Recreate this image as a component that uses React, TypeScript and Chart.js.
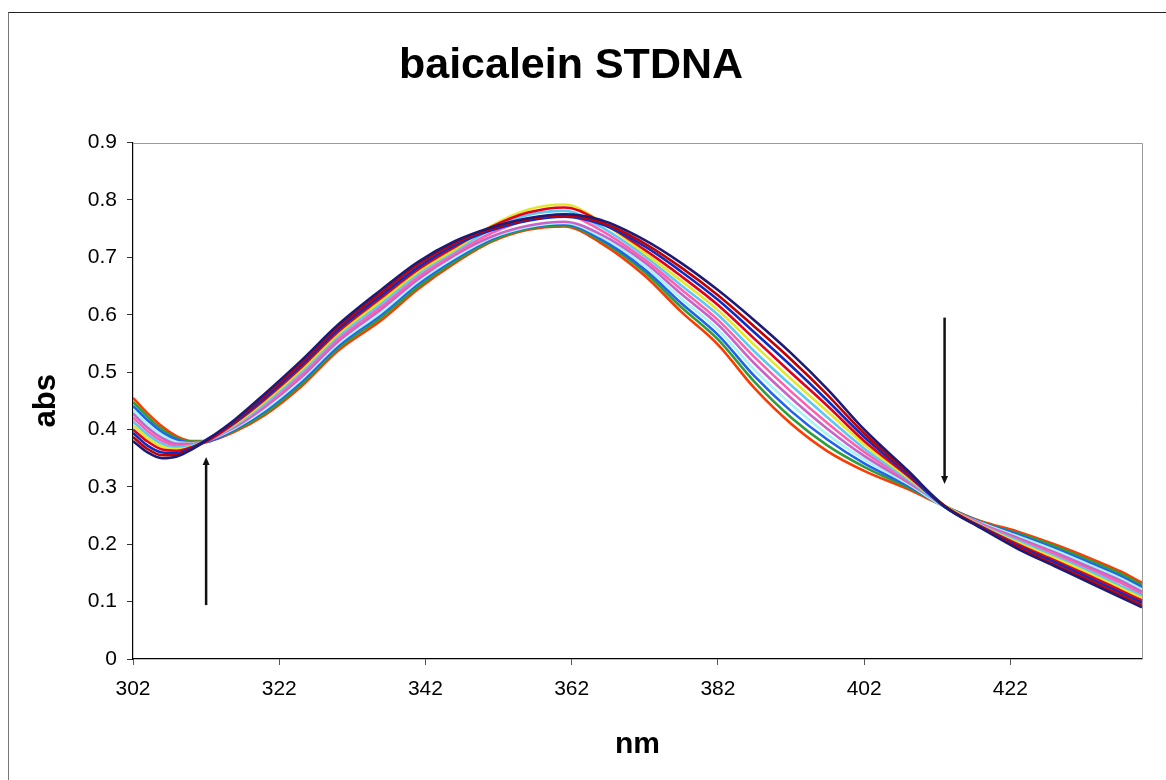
import React, { useEffect, useRef } from 'react';
import { Chart, registerables } from 'chart.js';

Chart.register(...registerables);

const TITLE = 'baicalein STDNA';
const X_TITLE = 'nm';
const Y_TITLE = 'abs';

const WAVELENGTHS = [302, 304, 306, 308, 310, 312, 316, 320, 325, 330, 336, 341, 346, 351, 356, 361, 366, 372, 377, 382, 387, 392, 397, 402, 408, 413, 418, 423, 428, 433, 437, 440];
const X_TICKS = [302, 322, 342, 362, 382, 402, 422];
const Y_TICKS = [0, 0.1, 0.2, 0.3, 0.4, 0.5, 0.6, 0.7, 0.8, 0.9];

const SPECTRUM_01 = [0.380, 0.360, 0.350, 0.353, 0.365, 0.381, 0.418, 0.462, 0.520, 0.582, 0.644, 0.692, 0.728, 0.752, 0.768, 0.775, 0.765, 0.730, 0.690, 0.643, 0.590, 0.533, 0.470, 0.400, 0.328, 0.266, 0.228, 0.192, 0.162, 0.132, 0.108, 0.090];
const SPECTRUM_02 = [0.387, 0.366, 0.355, 0.356, 0.366, 0.380, 0.416, 0.459, 0.516, 0.578, 0.639, 0.688, 0.725, 0.750, 0.766, 0.773, 0.761, 0.724, 0.682, 0.634, 0.579, 0.522, 0.460, 0.393, 0.325, 0.267, 0.229, 0.195, 0.165, 0.136, 0.112, 0.094];
const SPECTRUM_03 = [0.394, 0.372, 0.360, 0.359, 0.368, 0.382, 0.414, 0.455, 0.512, 0.574, 0.634, 0.683, 0.721, 0.747, 0.764, 0.771, 0.758, 0.719, 0.675, 0.626, 0.569, 0.511, 0.450, 0.387, 0.322, 0.265, 0.230, 0.197, 0.169, 0.140, 0.116, 0.098];
const SPECTRUM_04 = [0.400, 0.379, 0.365, 0.363, 0.369, 0.379, 0.412, 0.452, 0.508, 0.570, 0.630, 0.679, 0.718, 0.753, 0.778, 0.787, 0.762, 0.713, 0.667, 0.617, 0.558, 0.499, 0.441, 0.380, 0.319, 0.266, 0.231, 0.200, 0.172, 0.144, 0.120, 0.102];
const SPECTRUM_05 = [0.407, 0.385, 0.370, 0.366, 0.370, 0.381, 0.410, 0.449, 0.504, 0.566, 0.625, 0.675, 0.714, 0.755, 0.783, 0.792, 0.762, 0.707, 0.659, 0.608, 0.547, 0.488, 0.431, 0.374, 0.316, 0.268, 0.232, 0.203, 0.176, 0.148, 0.124, 0.106];
const SPECTRUM_06 = [0.414, 0.391, 0.375, 0.369, 0.372, 0.380, 0.408, 0.445, 0.500, 0.562, 0.620, 0.671, 0.711, 0.749, 0.774, 0.781, 0.753, 0.702, 0.651, 0.600, 0.536, 0.477, 0.421, 0.367, 0.313, 0.265, 0.233, 0.206, 0.179, 0.152, 0.128, 0.110];
const SPECTRUM_07 = [0.421, 0.397, 0.380, 0.372, 0.373, 0.379, 0.407, 0.442, 0.495, 0.557, 0.615, 0.666, 0.707, 0.742, 0.765, 0.774, 0.747, 0.696, 0.644, 0.591, 0.526, 0.466, 0.411, 0.361, 0.311, 0.266, 0.235, 0.208, 0.183, 0.155, 0.133, 0.113];
const SPECTRUM_08 = [0.428, 0.403, 0.385, 0.375, 0.375, 0.381, 0.405, 0.439, 0.491, 0.553, 0.610, 0.662, 0.704, 0.736, 0.755, 0.762, 0.740, 0.691, 0.636, 0.583, 0.515, 0.455, 0.401, 0.354, 0.308, 0.267, 0.236, 0.211, 0.186, 0.159, 0.137, 0.117];
const SPECTRUM_09 = [0.435, 0.409, 0.390, 0.378, 0.376, 0.380, 0.403, 0.435, 0.487, 0.549, 0.605, 0.658, 0.700, 0.734, 0.753, 0.760, 0.736, 0.685, 0.628, 0.574, 0.504, 0.444, 0.391, 0.348, 0.305, 0.265, 0.237, 0.214, 0.190, 0.163, 0.141, 0.121];
const SPECTRUM_10 = [0.441, 0.416, 0.395, 0.382, 0.377, 0.378, 0.401, 0.432, 0.483, 0.545, 0.601, 0.654, 0.697, 0.732, 0.752, 0.758, 0.732, 0.679, 0.620, 0.565, 0.493, 0.432, 0.382, 0.341, 0.302, 0.266, 0.238, 0.217, 0.193, 0.167, 0.145, 0.125];
const SPECTRUM_11 = [0.448, 0.422, 0.400, 0.385, 0.379, 0.380, 0.399, 0.428, 0.479, 0.541, 0.596, 0.649, 0.693, 0.729, 0.750, 0.756, 0.729, 0.674, 0.613, 0.557, 0.483, 0.421, 0.372, 0.335, 0.299, 0.267, 0.239, 0.219, 0.197, 0.171, 0.149, 0.129];
const SPECTRUM_12 = [0.455, 0.428, 0.405, 0.388, 0.380, 0.380, 0.397, 0.425, 0.475, 0.537, 0.591, 0.645, 0.690, 0.727, 0.748, 0.754, 0.725, 0.668, 0.605, 0.548, 0.472, 0.410, 0.362, 0.328, 0.296, 0.266, 0.240, 0.222, 0.200, 0.175, 0.153, 0.133];

const SPECTRA = [SPECTRUM_01, SPECTRUM_02, SPECTRUM_03, SPECTRUM_04, SPECTRUM_05, SPECTRUM_06, SPECTRUM_07, SPECTRUM_08, SPECTRUM_09, SPECTRUM_10, SPECTRUM_11, SPECTRUM_12];
const SPECTRUM_COLORS = ['#1c1c78', '#c40000', '#0a2fc2', '#e4001a', '#e2e82a', '#5ec8f5', '#ff5fb0', '#c864c8', '#a8f4f4', '#1f63f0', '#2e9e3a', '#ff3a00'];

const ARROW_NM = [312, 413];
const ARROW_FROM = [0.094, 0.595];
const ARROW_TO = [0.352, 0.305];

const FONT = 'Liberation Sans, Arial, Helvetica, sans-serif';

const overlayPlugin = {
  id: 'overlayPlugin',
  afterDatasetsDraw(chart: any) {
    const { ctx, chartArea, scales } = chart;
    const { left, top, right, bottom } = chartArea;
    ctx.save();
    ctx.strokeStyle = '#9a9a9a';
    ctx.lineWidth = 1;
    ctx.beginPath();
    ctx.moveTo(left, Math.round(top) + 0.5);
    ctx.lineTo(Math.round(right) + 0.5, Math.round(top) + 0.5);
    ctx.lineTo(Math.round(right) + 0.5, bottom);
    ctx.stroke();

    ctx.strokeStyle = '#111';
    ctx.fillStyle = '#111';
    for (let i = 0; i < ARROW_NM.length; i++) {
      const px = scales.x.getPixelForValue(ARROW_NM[i]);
      const y0 = scales.y.getPixelForValue(ARROW_FROM[i]);
      const y1 = scales.y.getPixelForValue(ARROW_TO[i]);
      const dir = y1 < y0 ? -1 : 1;
      ctx.lineWidth = 2.5;
      ctx.beginPath();
      ctx.moveTo(px, y0);
      ctx.lineTo(px, y1 - dir * 6);
      ctx.stroke();
      ctx.beginPath();
      ctx.moveTo(px, y1);
      ctx.lineTo(px - 3.5, y1 - dir * 8);
      ctx.lineTo(px + 3.5, y1 - dir * 8);
      ctx.closePath();
      ctx.fill();
    }
    ctx.restore();
  },
};

export default function App() {
  const canvasRef = useRef<HTMLCanvasElement | null>(null);

  useEffect(() => {
    document.body.style.margin = '0';
    const canvas = canvasRef.current;
    if (!canvas) return;
    const datasets = SPECTRA.map((s, i) => ({
      label: 'spectrum ' + (i + 1),
      data: WAVELENGTHS.map((w, j) => ({ x: w, y: s[j] })),
      borderColor: SPECTRUM_COLORS[i],
      backgroundColor: SPECTRUM_COLORS[i],
      borderWidth: 2.6,
      pointRadius: 0,
      fill: false,
      cubicInterpolationMode: 'monotone' as const,
    }));

    const chart = new Chart(canvas, {
      type: 'line',
      data: { datasets },
      options: {
        animation: false,
        responsive: false,
        maintainAspectRatio: false,
        layout: { padding: { left: 0, right: 24, top: 0, bottom: 0 } },
        plugins: {
          legend: { display: false },
          tooltip: { enabled: false },
          title: {
            display: true,
            text: TITLE,
            color: '#000',
            font: { family: FONT, size: 43, weight: 'bold' },
            padding: { top: 40, bottom: 51 },
          },
        },
        scales: {
          x: {
            type: 'linear',
            min: 302,
            max: 440,
            afterBuildTicks: (scale: any) => {
              scale.ticks = X_TICKS.map((v) => ({ value: v }));
            },
            afterFit: (scale: any) => {
              scale.height = 121;
            },
            ticks: {
              color: '#000',
              font: { family: FONT, size: 21 },
              padding: 12,
              maxRotation: 0,
              autoSkip: false,
              callback: (v: any) => String(v),
            },
            grid: {
              display: true,
              drawOnChartArea: false,
              drawTicks: true,
              tickLength: 6,
              tickColor: '#555',
            },
            border: { display: true, color: '#000', width: 1.2 },
            title: {
              display: true,
              text: X_TITLE,
              color: '#000',
              font: { family: FONT, size: 30, weight: 'bold' },
              padding: { top: 0, bottom: 17 },
            },
          },
          y: {
            type: 'linear',
            min: 0,
            max: 0.9,
            afterBuildTicks: (scale: any) => {
              scale.ticks = Y_TICKS.map((v) => ({ value: v }));
            },
            afterFit: (scale: any) => {
              scale.width = 133;
            },
            ticks: {
              color: '#000',
              font: { family: FONT, size: 21 },
              padding: 10,
              autoSkip: false,
              callback: (v: any) => String(Math.round(v * 10) / 10),
            },
            grid: {
              display: true,
              drawOnChartArea: false,
              drawTicks: true,
              tickLength: 6,
              tickColor: '#333',
            },
            border: { display: true, color: '#000', width: 1.2 },
            title: {
              display: true,
              text: Y_TITLE,
              color: '#000',
              font: { family: FONT, size: 31, weight: 'bold' },
              padding: { top: 28, bottom: 0 },
            },
          },
        },
      },
      plugins: [overlayPlugin],
    });
    return () => {
      chart.destroy();
    };
  }, []);

  return (
    <div style={{ position: 'relative', width: 1166, height: 780, background: '#fff', overflow: 'hidden' }}>
      <canvas ref={canvasRef} width={1166} height={780} style={{ display: 'block', width: 1166, height: 780 }} />
      <div
        style={{
          position: 'absolute',
          left: 8,
          top: 12,
          right: 0,
          bottom: 0,
          borderTop: '1px solid #222',
          borderLeft: '1px solid #777',
          pointerEvents: 'none',
        }}
      />
    </div>
  );
}
